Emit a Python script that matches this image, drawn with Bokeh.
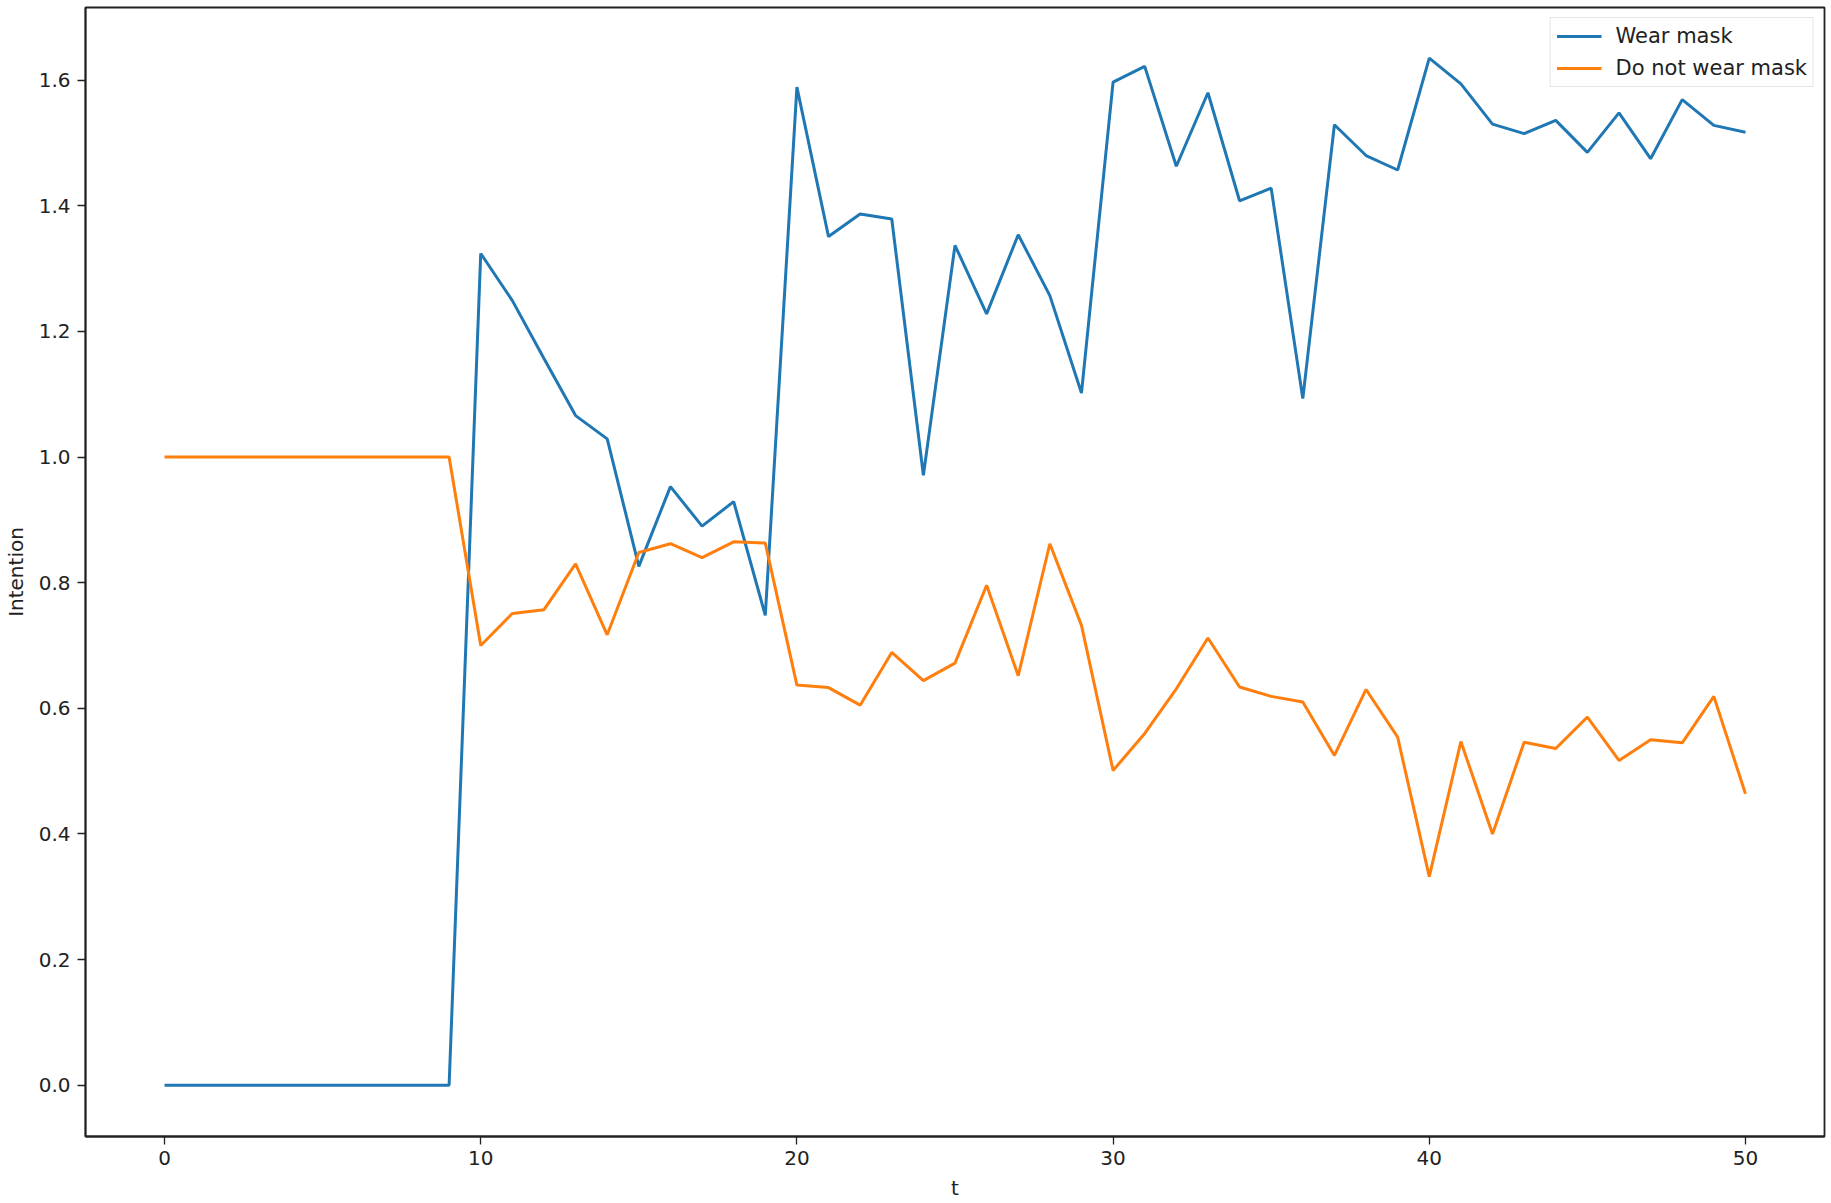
from bokeh.plotting import figure
from bokeh.models import Range1d, FixedTicker, NumeralTickFormatter, Legend, LegendItem
from bokeh.embed import file_html
from bokeh.resources import INLINE

t = list(range(0, 51))
wear_mask = [0.0] * 10 + [
    1.324, 1.249, 1.157, 1.066, 1.029, 0.826, 0.953, 0.890, 0.929, 0.748,
    1.589, 1.351, 1.387, 1.379, 0.971, 1.337, 1.228, 1.354, 1.257, 1.102,
    1.597, 1.622, 1.463, 1.580, 1.408, 1.428, 1.093, 1.529, 1.480, 1.457,
    1.635, 1.594, 1.530, 1.515, 1.536, 1.485, 1.548, 1.475, 1.569, 1.528,
    1.517,
]
no_mask = [1.0] * 10 + [
    0.700, 0.751, 0.757, 0.830, 0.717, 0.848, 0.862, 0.840, 0.865, 0.863,
    0.637, 0.633, 0.605, 0.689, 0.644, 0.672, 0.796, 0.652, 0.862, 0.732,
    0.501, 0.560, 0.631, 0.712, 0.634, 0.619, 0.610, 0.525, 0.630, 0.554,
    0.332, 0.547, 0.400, 0.546, 0.536, 0.586, 0.517, 0.550, 0.545, 0.619,
    0.464,
]
x_ticks = [0, 10, 20, 30, 40, 50]
y_ticks = [0.0, 0.2, 0.4, 0.6, 0.8, 1.0, 1.2, 1.4, 1.6]
labels = ["Wear mask", "Do not wear mask"]
colors = ["#1f77b4", "#ff7f0e"]

FONT = "DejaVu Sans"
FS = "20px"

p = figure(width=1831, height=1203, output_backend="svg", toolbar_location=None,
           x_range=Range1d(-2.5, 52.5), y_range=Range1d(-0.0817, 1.7157),
           min_border_left=84, min_border_right=7, min_border_top=7, min_border_bottom=67)

r1 = p.line(t, wear_mask, line_color=colors[0], line_width=3)
r2 = p.line(t, no_mask, line_color=colors[1], line_width=3)

p.xgrid.visible = False
p.ygrid.visible = False
p.background_fill_color = "white"
p.border_fill_color = "white"
p.outline_line_color = "#222222"
p.outline_line_width = 1.8

for ax in (p.xaxis[0], p.yaxis[0]):
    ax.axis_line_color = "#222222"
    ax.axis_line_width = 1.8
    ax.major_tick_line_color = "#222222"
    ax.major_tick_line_width = 1.3
    ax.major_tick_out = 8
    ax.major_tick_in = 0
    ax.minor_tick_line_color = None
    ax.major_label_text_font = FONT
    ax.major_label_text_font_size = FS
    ax.major_label_text_color = "#222222"
    ax.axis_label_text_font = FONT
    ax.axis_label_text_font_size = FS
    ax.axis_label_text_font_style = "normal"
    ax.axis_label_text_color = "#222222"

p.xaxis[0].ticker = FixedTicker(ticks=x_ticks)
p.yaxis[0].ticker = FixedTicker(ticks=y_ticks)
p.yaxis[0].formatter = NumeralTickFormatter(format="0.0")
p.xaxis[0].axis_label = "t"
p.yaxis[0].axis_label = "Intention"
p.xaxis[0].major_label_standoff = 6
p.xaxis[0].axis_label_standoff = 8
p.yaxis[0].major_label_standoff = 7
p.yaxis[0].axis_label_standoff = 8

legend = Legend(items=[LegendItem(label=labels[0], renderers=[r1]),
                       LegendItem(label=labels[1], renderers=[r2])],
                location="top_right")
legend.label_text_font = FONT
legend.label_text_font_size = "21px"
legend.label_text_color = "#222222"
legend.glyph_width = 45
legend.glyph_height = 20
legend.label_height = 20
legend.spacing = 8
legend.padding = 6
legend.margin = 10
legend.label_standoff = 14
legend.border_line_color = "#cccccc"
legend.border_line_width = 1.5
legend.background_fill_alpha = 0.8
p.add_layout(legend)

open("out.html", "w").write(file_html(p, INLINE))
